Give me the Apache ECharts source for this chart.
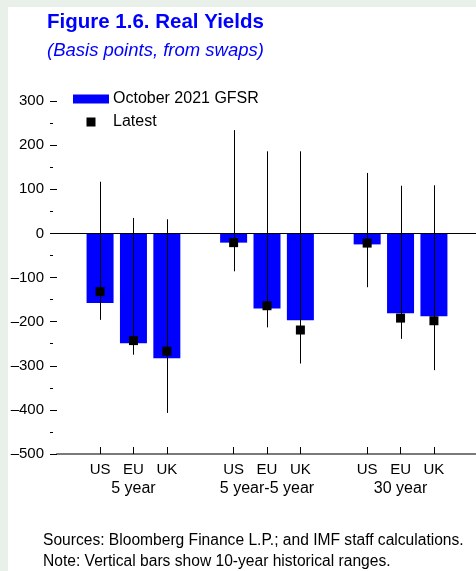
<!DOCTYPE html>
<html>
<head>
<meta charset="utf-8">
<script src="https://cdn.jsdelivr.net/npm/echarts@6/dist/echarts.min.js"></script>
<style>
  html, body { margin: 0; padding: 0; background: #e9efe9; }
  #chart { width: 476px; height: 571px; }
</style>
</head>
<body>
<div id="chart"></div>
<script>
// ---- Data ----
const categories = ['US', 'EU', 'UK'];
const groups = ['5 year', '5 year-5 year', '30 year'];
// October 2021 GFSR (bars), basis points
const gfsr = [-158, -249, -283, -21, -170, -197, -25, -181, -188];
// Latest (black squares)
const latest = [-132, -243, -267, -21, -164, -219, -22, -192, -198];
// 10-year historical ranges
const rangeHigh = [117, 35, 32, 234, 186, 186, 137, 108, 109];
const rangeLow = [-196, -275, -407, -86, -213, -295, -122, -239, -310];
const yTickMin = -500, yTickMax = 300, yTickStep = 100;

const FONT = 'Liberation Sans, Arial, sans-serif';
const BLUE = '#0000ff';

// slot index on the x value axis: 3 bars per group, one empty slot between groups
const slotOf = k => Math.floor(k / 3) * 4 + (k % 3) + 1;
const barSlots = gfsr.map((_, k) => slotOf(k));
const groupSlots = groups.map((_, g) => g * 4 + 2);

const chart = echarts.init(document.getElementById('chart'), null, { renderer: 'canvas' });

const option = {
  animation: false,
  backgroundColor: '#e9efe9',
  textStyle: { fontFamily: FONT },
  graphic: [{
    type: 'rect', left: 8, top: 7, z: -100,
    shape: { width: 468, height: 564 },
    style: { fill: '#ffffff' },
    silent: true
  }],
  title: [{
    left: 47, top: 11,
    text: 'Figure 1.6. Real Yields',
    textStyle: { fontFamily: FONT, fontSize: 20.5, fontWeight: 'bold', color: BLUE, lineHeight: 22 },
    subtext: '(Basis points, from swaps)',
    subtextStyle: { fontFamily: FONT, fontSize: 18.5, fontStyle: 'italic', color: BLUE, lineHeight: 20 },
    itemGap: 8,
    padding: 0
  }, {
    left: 43, top: 530,
    padding: 0,
    text: 'Sources: Bloomberg Finance L.P.; and IMF staff calculations.\nNote: Vertical bars show 10-year historical ranges.',
    textStyle: { fontFamily: FONT, fontSize: 15.6, fontWeight: 'normal', color: '#000', lineHeight: 21 }
  }],
  legend: {
    orient: 'vertical',
    left: 73, top: 91,
    padding: 0,
    itemWidth: 36, itemHeight: 9, itemGap: 7,
    symbolKeepAspect: true,
    textStyle: { fontFamily: FONT, fontSize: 16, color: '#000', padding: [0, 0, 0, -1] },
    data: [
      { name: 'October 2021 GFSR', icon: 'rect' },
      { name: 'Latest', icon: 'path://M0,0L10,0L10,10L0,10Z' }
    ]
  },
  grid: {
    left: 57, right: 0, top: 101, bottom: 117,
    containLabel: false,
    outerBoundsMode: 'none'
  },
  xAxis: [{
    type: 'value',
    position: 'bottom',
    min: -0.29, max: 12.26,
    axisLine: { show: true, onZero: false, lineStyle: { color: '#7a7a7a', width: 2 } },
    axisTick: { show: true, inside: true, length: 7, customValues: barSlots, lineStyle: { color: '#000', width: 1 } },
    axisLabel: {
      show: true, customValues: barSlots, margin: 8,
      fontFamily: FONT, fontSize: 15, color: '#000',
      formatter: v => categories[(Math.round(v) - 1) % 4]
    },
    splitLine: { show: false }
  }, {
    type: 'value',
    position: 'bottom',
    min: -0.29, max: 12.26,
    axisLine: { show: false, onZero: false },
    axisTick: { show: false },
    axisLabel: {
      show: true, customValues: groupSlots, margin: 27,
      fontFamily: FONT, fontSize: 16, color: '#000',
      formatter: v => groups[(Math.round(v) - 2) / 4]
    },
    splitLine: { show: false }
  }],
  yAxis: {
    type: 'value',
    min: yTickMin, max: yTickMax, interval: yTickStep,
    offset: 7,
    axisLine: { show: false, onZero: false },
    axisTick: { show: true, inside: true, length: 7, lineStyle: { color: '#000', width: 1 } },
    minorTick: { show: true, splitNumber: 2, length: 3, lineStyle: { color: '#000', width: 1 } },
    axisLabel: {
      margin: 6, fontFamily: FONT, fontSize: 15, color: '#000',
      formatter: v => String(v).replace('-', '\u2013')
    },
    splitLine: { show: false },
    minorSplitLine: { show: false }
  },
  series: [{
    name: 'October 2021 GFSR',
    type: 'bar',
    xAxisIndex: 0,
    barWidth: 27,
    itemStyle: { color: BLUE, opacity: 1 },
    data: gfsr.map((v, k) => [barSlots[k], v]),
    z: 2,
    markLine: {
      silent: true,
      symbol: ['none', 'none'],
      label: { show: false },
      lineStyle: { color: '#000', width: 1, type: 'solid', opacity: 1 },
      emphasis: { disabled: true },
      data: [{ yAxis: 0 }]
    }
  }, {
    name: 'Range',
    type: 'custom',
    xAxisIndex: 0,
    z: 3,
    encode: { x: 0, y: [1, 2] },
    data: rangeLow.map((v, k) => [barSlots[k], v, rangeHigh[k]]),
    renderItem: (params, api) => {
      const x = api.value(0);
      const p1 = api.coord([x, api.value(1)]);
      const p2 = api.coord([x, api.value(2)]);
      const px = Math.round(p1[0]) + 0.5;
      return {
        type: 'line',
        shape: { x1: px, y1: p1[1], x2: px, y2: p2[1] },
        style: { stroke: '#000', lineWidth: 1 }
      };
    }
  }, {
    name: 'Latest',
    type: 'scatter',
    xAxisIndex: 0,
    symbol: 'rect',
    symbolSize: 9,
    itemStyle: { color: '#000', opacity: 1 },
    z: 4,
    data: latest.map((v, k) => [barSlots[k], v])
  }]
};

chart.setOption(option);
</script>
</body>
</html>
